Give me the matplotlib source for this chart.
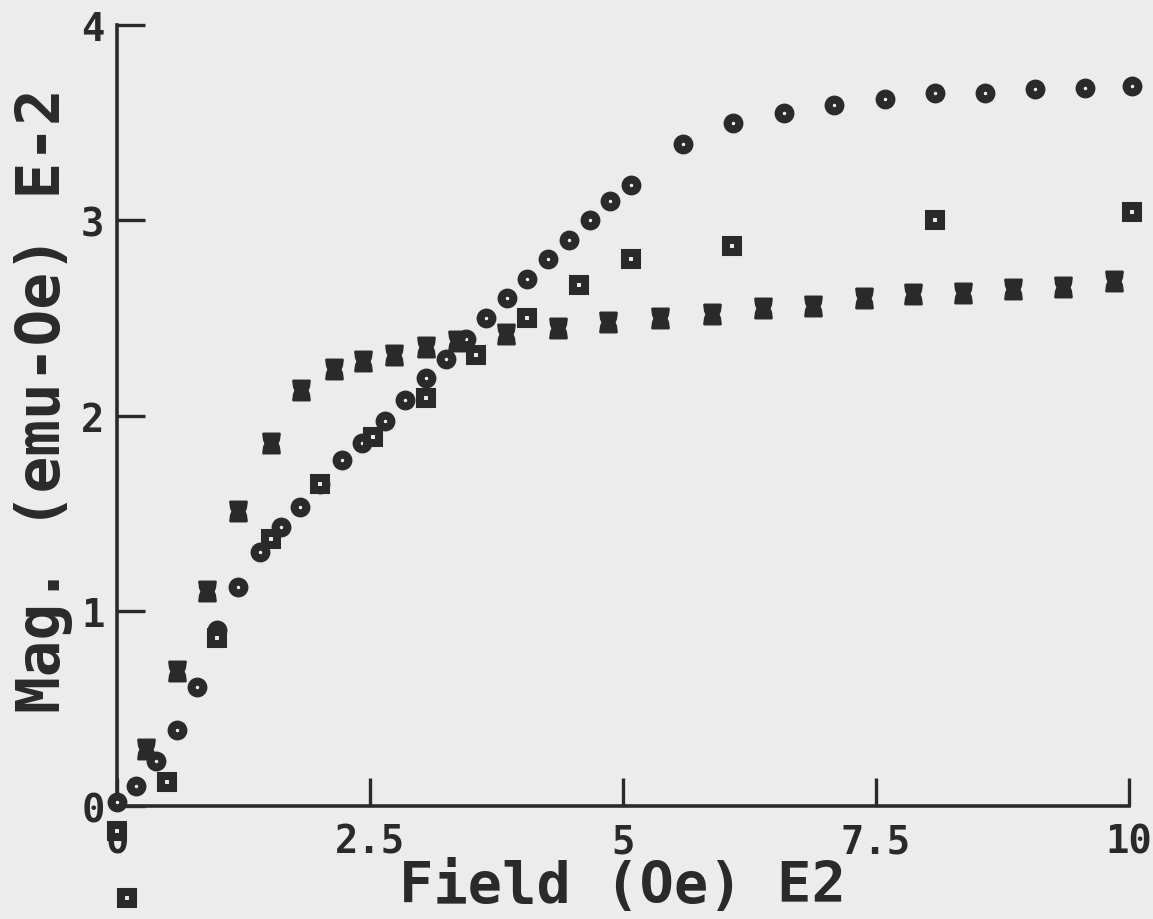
import matplotlib
matplotlib.use("Agg")
import matplotlib.pyplot as plt
from matplotlib.path import Path

# field (x100 Oe) and magnetization (x0.01 emu-Oe) for the three runs
circle_x = [0.0, 0.19, 0.39, 0.59, 0.79, 0.99, 1.20, 1.41, 1.62, 1.81, 2.01,
            2.22, 2.42, 2.65, 2.85, 3.05, 3.25, 3.45, 3.65, 3.85, 4.05, 4.26,
            4.47, 4.67, 4.87, 5.08, 5.59, 6.09, 6.59, 7.09, 7.59, 8.08, 8.58,
            9.07, 9.57, 10.03]
circle_y = [0.02, 0.10, 0.23, 0.39, 0.61, 0.90, 1.12, 1.30, 1.43, 1.53, 1.65,
            1.77, 1.86, 1.97, 2.08, 2.19, 2.29, 2.39, 2.50, 2.60, 2.70, 2.80,
            2.90, 3.00, 3.10, 3.18, 3.39, 3.50, 3.55, 3.59, 3.62, 3.65, 3.65,
            3.67, 3.68, 3.69]

square_x = [0.0, 0.10, 0.49, 0.99, 1.52, 2.01, 2.53, 3.05, 3.55, 4.05, 4.57,
            5.08, 6.08, 8.08, 10.03]
square_y = [-0.13, -0.47, 0.125, 0.86, 1.37, 1.65, 1.89, 2.09, 2.31, 2.50,
            2.67, 2.80, 2.87, 3.00, 3.04]

spool_x = [0.29, 0.59, 0.89, 1.20, 1.52, 1.82, 2.14, 2.43, 2.74, 3.05, 3.36,
           3.84, 4.36, 4.85, 5.37, 5.88, 6.38, 6.88, 7.38, 7.87, 8.36, 8.86,
           9.35, 9.85]
spool_y = [0.29, 0.69, 1.10, 1.51, 1.86, 2.13, 2.24, 2.28, 2.31, 2.35, 2.38,
           2.42, 2.45, 2.48, 2.50, 2.52, 2.55, 2.56, 2.60, 2.62, 2.63, 2.65,
           2.66, 2.69]

x_ticks = [0, 2.5, 5, 7.5, 10]
x_ticklabels = ["0", "2.5", "5", "7.5", "10"]
y_ticks = [0, 1, 2, 3, 4]

ink = "#2a2a2a"
paper = "#ececec"

# spool shaped plotter symbol, a bit taller than wide
spool = Path([(-1, 1.2), (1, 1.2), (0.9, 0.45), (0.72, 0), (0.9, -0.45),
              (1, -1.2), (-1, -1.2), (-0.9, -0.45), (-0.72, 0), (-0.9, 0.45),
              (-1, 1.2)], closed=True)

plt.rcParams['font.family'] = ['DejaVu Sans Mono']

fig = plt.figure(figsize=(11.53, 9.2), dpi=100, facecolor=paper)
ax = fig.add_axes([0.1015, 0.1228, 0.8775, 0.8489], facecolor=paper)

ax.plot(circle_x, circle_y, linestyle='none', marker='o', ms=8.5, mew=5.8,
        mec=ink, mfc=paper, clip_on=False, zorder=3)
ax.plot(square_x, square_y, linestyle='none', marker='s', ms=8.0, mew=5.8,
        mec=ink, mfc=paper, clip_on=False, zorder=3)
ax.plot(spool_x, spool_y, linestyle='none', marker=spool, ms=14, mew=1.8,
        mec=ink, mfc=ink, clip_on=False, zorder=3)

ax.set_xlim(0, 10)
ax.set_ylim(0, 4)
for side in ['top', 'right']:
    ax.spines[side].set_visible(False)
for side in ['left', 'bottom']:
    ax.spines[side].set_linewidth(2.6)
    ax.spines[side].set_color(ink)

ax.set_xticks(x_ticks)
ax.set_xticklabels(x_ticklabels)
ax.set_yticks(y_ticks)
ax.tick_params(direction='in', length=20, width=2.4, color=ink,
               labelsize=28, labelcolor=ink)
ax.tick_params(axis='x', pad=12)
ax.tick_params(axis='y', pad=9)
for lbl in ax.get_xticklabels() + ax.get_yticklabels():
    lbl.set_fontweight('bold')

ax.set_xlabel("Field (Oe) E2", fontsize=41, fontweight='bold', color=ink)
ax.set_ylabel("Mag. (emu-Oe) E-2", fontsize=44, fontweight='bold', color=ink)
ax.xaxis.set_label_coords(0.5, -0.068)
ax.yaxis.set_label_coords(-0.044, 0.52)

fig.savefig("out.png", dpi=100, facecolor=paper)
